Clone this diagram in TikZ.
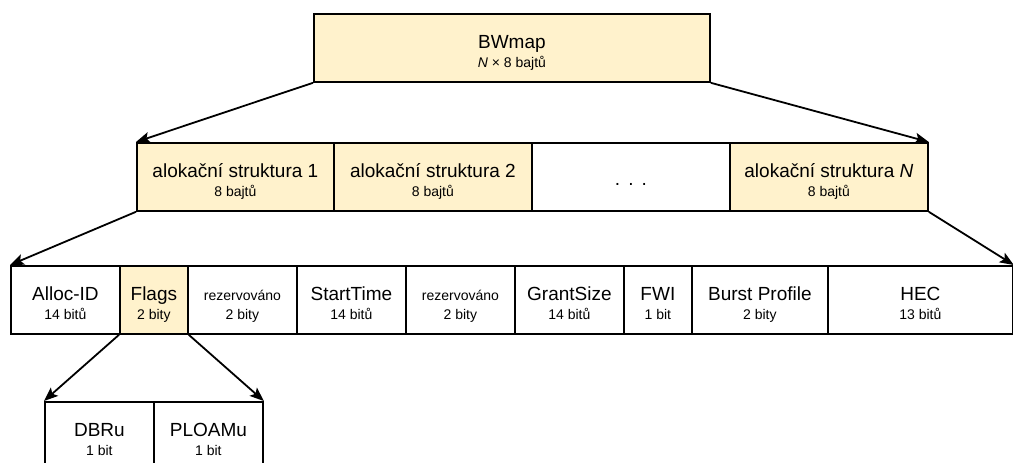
\documentclass[tikz,border=0pt]{standalone}
\usepackage{fontspec}
\setmainfont{Liberation Sans}
\usetikzlibrary{arrows.meta}
\definecolor{boxyellow}{HTML}{FFF2CC}
\newcommand\smf{\fontsize{14}{17}\selectfont}
\newcommand\bgf{\fontsize{19}{23}\selectfont}
% \fld{name}{x-left}{width}{y-top}{fill}{main}{sub}
\newcommand\fld[7]{%
  \node[fieldbox, fill=#5, minimum width=#3, anchor=north west] (#1) at (#2,#4) {};
  \node[maintext] (#1-m) at ([yshift=-0.5pt]#1.center) {#6};
  \node[subtext] (#1-s) at ([yshift=-19.5pt]#1.center) {#7};
}
\begin{document}
\begin{tikzpicture}[x=1pt,y=-1pt,
  fieldbox/.style={draw=black, line width=1.8pt, minimum height=68pt, inner sep=0pt},
  maintext/.style={anchor=base, inner sep=0pt, font=\bgf},
  subtext/.style={anchor=base, inner sep=0pt, font=\smf},
  arr/.style={draw=black, line width=1.8pt, -{Stealth[length=14pt,width=11pt,inset=3pt]}}]
\useasboundingbox (0,0) rectangle (1013,463);
% top
\fld{bw}{313}{396}{13}{boxyellow}{BWmap}{\textit{N} × 8 bajtů}
% row 2
\fld{s1}{136}{197}{142}{boxyellow}{alokační struktura 1}{8 bajtů}
\fld{s2}{333}{198}{142}{boxyellow}{alokační struktura 2}{8 bajtů}
\node[fieldbox, fill=white, minimum width=198, anchor=north west] (sd) at (531,142) {};
\node[maintext] (sd-m) at ([yshift=-8.5pt]sd.center) {.\hspace{8pt}.\hspace{8pt}.};
\fld{sn}{729}{198}{142}{boxyellow}{alokační struktura \textit{N}}{8 bajtů}
% row 3
\fld{f1}{10}{109}{265}{white}{Alloc-ID}{14 bitů}
\fld{f2}{119}{68}{265}{boxyellow}{Flags}{2 bity}
\fld{f3}{187}{109}{265}{white}{\smf rezervováno}{2 bity}
\fld{f4}{296}{109}{265}{white}{StartTime}{14 bitů}
\fld{f5}{405}{109}{265}{white}{\smf rezervováno}{2 bity}
\fld{f6}{514}{109}{265}{white}{GrantSize}{14 bitů}
\fld{f7}{623}{68}{265}{white}{FWI}{1 bit}
\fld{f8}{691}{136}{265}{white}{Burst Profile}{2 bity}
\fld{f9}{827}{185}{265}{white}{HEC}{13 bitů}
% row 4
\fld{g1}{44}{109}{401}{white}{DBRu}{1 bit}
\fld{g2}{153}{109}{401}{white}{PLOAMu}{1 bit}
% connectors
\draw[arr] (bw.south west) -- (s1.north west);
\draw[arr] (bw.south east) -- (sn.north east);
\draw[arr] (s1.south west) -- (f1.north west);
\draw[arr] (sn.south east) -- (f9.north east);
\draw[arr] (f2.south west) -- (g1.north west);
\draw[arr] (f2.south east) -- (g2.north east);
\end{tikzpicture}
\end{document}
